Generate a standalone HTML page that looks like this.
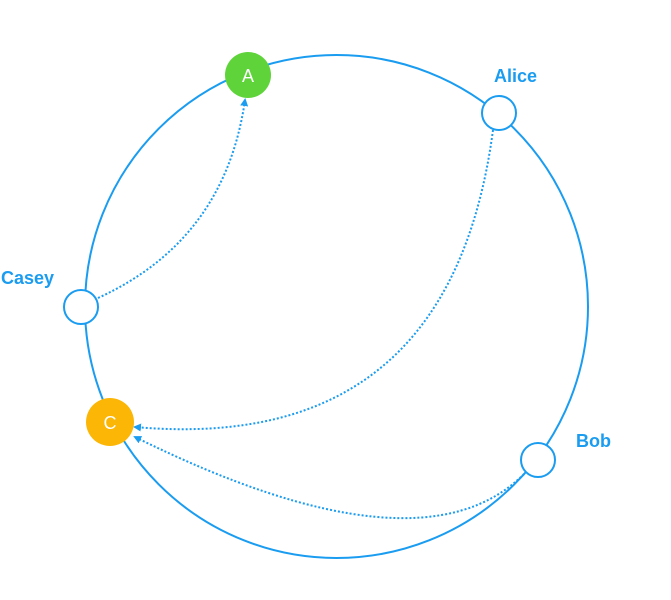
<!DOCTYPE html>
<html><head><style>body{margin:0;background:#fff}svg{display:block}</style></head><body>
<svg width="671" height="600" viewBox="0 0 671 600" xmlns="http://www.w3.org/2000/svg">
<defs><marker id="ar" markerWidth="8" markerHeight="8" refX="6" refY="4" orient="auto" markerUnits="userSpaceOnUse"><path d="M0,0 L8,4 L0,8z" fill="#1a9cf0"/></marker></defs>
<circle cx="336.5" cy="306.5" r="251.5" fill="none" stroke="#1a9cf0" stroke-width="2"/>
<g fill="none" stroke="#1a9cf0" stroke-width="2" stroke-dasharray="2,2">
<path d="M98,298 Q225,240 245,100" marker-end="url(#ar)"/>
<path d="M493,130 Q450,455 135,427" marker-end="url(#ar)"/>
<path d="M524,474 Q420,578 135,437" marker-end="url(#ar)"/>
</g>
<circle cx="248" cy="75" r="23" fill="#5fd43a"/>
<circle cx="110" cy="422" r="24" fill="#fbb606"/>
<g fill="#fff" stroke="#1a9cf0" stroke-width="2">
<circle cx="499" cy="113" r="17"/>
<circle cx="81" cy="307" r="17"/>
<circle cx="538" cy="460" r="17"/>
</g>
<g font-family="Liberation Sans, sans-serif" font-size="18" fill="#fff" text-anchor="middle">
<text x="248" y="82">A</text><text x="110" y="429">C</text>
</g>
<g font-family="Liberation Sans, sans-serif" font-weight="bold" font-size="18" fill="#1a9cf0">
<text x="494" y="82">Alice</text><text x="1" y="284">Casey</text><text x="576" y="447">Bob</text>
</g>
</svg>
</body></html>
